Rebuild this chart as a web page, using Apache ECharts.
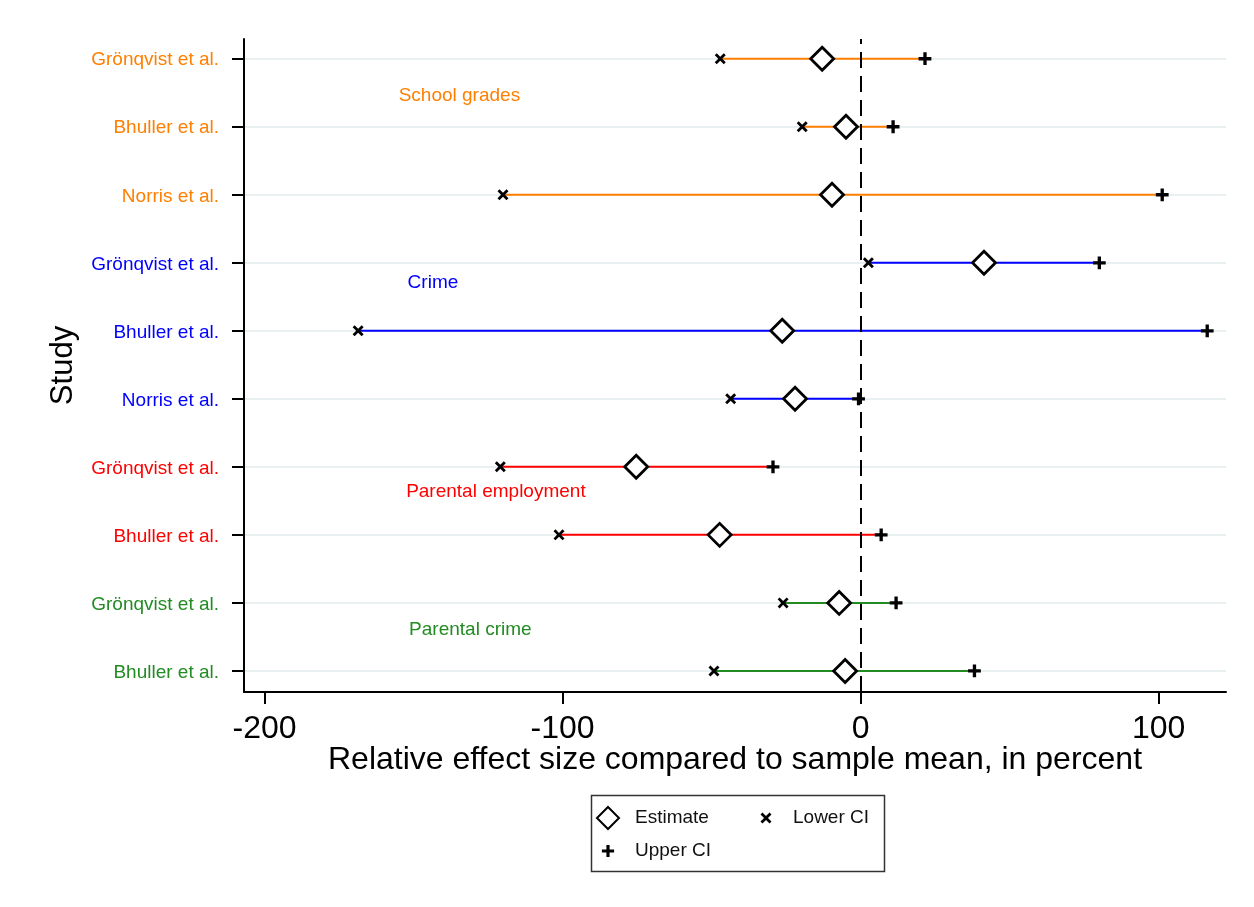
<!DOCTYPE html>
<html>
<head>
<meta charset="utf-8">
<script src="https://cdn.jsdelivr.net/npm/echarts@6/dist/echarts.min.js"></script>
<style>
  html, body { margin: 0; padding: 0; background: #fff; }
  #chart { width: 1254px; height: 907px; }
</style>
</head>
<body>
<div id="chart"></div>
<script>
// Studies, top to bottom
const studies = [
  'Grönqvist et al.', 'Bhuller et al.', 'Norris et al.',
  'Grönqvist et al.', 'Bhuller et al.', 'Norris et al.',
  'Grönqvist et al.', 'Bhuller et al.',
  'Grönqvist et al.', 'Bhuller et al.'
];
// Outcome group of each study row (index into outcomes)
const groups = [0, 0, 0, 1, 1, 1, 2, 2, 3, 3];
const outcomes = ['School grades', 'Crime', 'Parental employment', 'Parental crime'];

// Relative effect sizes (percent of sample mean)
const estimate = [-12.9, -4.9, -9.6, 41.4, -26.3, -22.0, -75.3, -47.3, -7.2, -5.2];
const lowerCI  = [-47.1, -19.6, -120.0, 2.6, -168.6, -43.6, -120.9, -101.2, -26.0, -49.2];
const upperCI  = [21.6, 10.9, 101.2, 80.1, 116.3, -0.7, -29.4, 6.9, 11.9, 38.2];

// x-axis tick labels
const xTicks = [-200, -100, 0, 100];

const FONT = '"Liberation Sans", Arial, Helvetica, sans-serif';
const groupColors = ['#FF7F00', '#0000FF', '#FF0000', '#228B22'];

// Row position on the y scale: first study sits at the top
const rowPos = studies.map((_, i) => studies.length - i);

const rangeData = studies.map((_, i) => [lowerCI[i], upperCI[i], rowPos[i]]);
const estData = studies.map((_, i) => [estimate[i], rowPos[i]]);
const lowData = studies.map((_, i) => [lowerCI[i], rowPos[i]]);
const upData = studies.map((_, i) => [upperCI[i], rowPos[i]]);

// Outcome headings, placed in data space below the first row of each group
const headingAnchor = [[-155, 9.45], [-152, 6.70], [-152.5, 3.63], [-151.5, 1.60]];
const headingData = outcomes.map((name, g) => ({
  value: headingAnchor[g],
  name: name,
  label: { color: groupColors[g] }
}));

// Marker shapes; the moveTo corners pad the glyph inside its symbol box
const crossX = 'path://M-5,-5L-5,-5M15,15L15,15M0,1.8L1.8,0L5,3.2L8.2,0L10,1.8L6.8,5L10,8.2L8.2,10L5,6.8L1.8,10L0,8.2L3.2,5Z';
const crossPlus = 'path://M-4,-4L-4,-4M14,14L14,14M3.7,0H6.3V3.7H10V6.3H6.3V10H3.7V6.3H0V3.7H3.7Z';

const rich = {};
groupColors.forEach((c, g) => {
  rich['g' + g] = { color: c, fontSize: 19, fontFamily: FONT, padding: [3, 0, 0, 0] };
});

const chart = echarts.init(document.getElementById('chart'), null, { renderer: 'canvas' });

chart.setOption({
  animation: false,
  backgroundColor: '#fff',
  textStyle: { fontFamily: FONT },
  grid: { left: 244, right: 28, top: 39, bottom: 215, outerBoundsMode: 'none' },
  xAxis: {
    type: 'value',
    min: -206.9,
    max: 122.6,
    name: 'Relative effect size compared to sample mean, in percent',
    nameLocation: 'middle',
    nameGap: 52,
    nameMoveOverlap: false,
    nameTextStyle: { fontSize: 32, color: '#000', fontFamily: FONT },
    axisLine: { show: true, onZero: false, lineStyle: { color: '#000', width: 2 } },
    axisTick: { show: true, customValues: xTicks, length: 12, lineStyle: { color: '#000', width: 2 } },
    axisLabel: {
      customValues: xTicks,
      margin: 21,
      fontSize: 32,
      color: '#000',
      fontFamily: FONT,
      formatter: v => String(v)
    },
    splitLine: { show: false }
  },
  yAxis: {
    type: 'value',
    min: 0.69,
    max: 10.29,
    name: 'Study',
    nameLocation: 'middle',
    nameRotate: 90,
    nameGap: 165,
    nameTextStyle: { fontSize: 31, color: '#000', fontFamily: FONT },
    axisLine: { show: true, onZero: false, lineStyle: { color: '#000', width: 2 } },
    axisTick: { show: true, customValues: rowPos, length: 12, lineStyle: { color: '#000', width: 2 } },
    axisLabel: {
      customValues: rowPos,
      margin: 25,
      formatter: v => {
        const i = studies.length - Math.round(v);
        return '{g' + groups[i] + '|' + studies[i] + '}';
      },
      rich: rich
    },
    splitLine: { show: false }
  },
  legend: {
    data: ['Estimate', 'Lower CI', 'Upper CI'],
    left: 596,
    top: 806,
    width: 310,
    padding: 0,
    itemWidth: 22,
    itemHeight: 22,
    itemGap: 9,
    selectedMode: false,
    textStyle: {
      fontSize: 19,
      fontFamily: FONT,
      color: '#111',
      width: 111,
      lineHeight: 22,
      padding: [0, 0, 0, 11]
    }
  },
  graphic: [{
    type: 'rect',
    left: 589,
    top: 793,
    shape: { width: 293, height: 76 },
    style: { fill: 'none', stroke: '#333', lineWidth: 1.5 },
    silent: true
  }],
  series: [
    {
      // light horizontal guides at each study row
      type: 'line',
      data: [],
      silent: true,
      z: 0,
      markLine: {
        z: 0,
        silent: true,
        symbol: 'none',
        label: { show: false },
        lineStyle: { color: '#E9F0F2', width: 2, type: 'solid' },
        data: rowPos.map(p => ({ yAxis: p }))
      }
    },
    {
      // confidence interval segments, coloured by outcome group
      type: 'custom',
      name: 'CI',
      z: 2,
      silent: true,
      data: rangeData,
      encode: { x: [0, 1], y: 2 },
      renderItem: (params, api) => {
        const y = api.value(2);
        const a = api.coord([api.value(0), y]);
        const b = api.coord([api.value(1), y]);
        return {
          type: 'line',
          shape: { x1: a[0], y1: a[1], x2: b[0], y2: b[1] },
          style: { stroke: groupColors[groups[params.dataIndex]], lineWidth: 2, opacity: 1 }
        };
      }
    },
    {
      type: 'scatter',
      name: 'Estimate',
      z: 3,
      data: estData,
      symbol: 'diamond',
      symbolSize: 23,
      itemStyle: { color: '#fff', borderColor: '#000', borderWidth: 2.8, opacity: 1 }
    },
    {
      type: 'scatter',
      name: 'Lower CI',
      z: 4,
      data: lowData,
      symbol: crossX,
      symbolSize: 22,
      itemStyle: { color: '#000', opacity: 1 }
    },
    {
      type: 'scatter',
      name: 'Upper CI',
      z: 4,
      data: upData,
      symbol: crossPlus,
      symbolSize: 23,
      itemStyle: { color: '#000', opacity: 1 },
      markLine: {
        // reference line at zero effect
        z: 6,
        silent: true,
        symbol: 'none',
        label: { show: false },
        lineStyle: { color: '#000', width: 2, type: [16, 8] },
        data: [{ xAxis: 0 }]
      }
    },
    {
      // outcome headings
      type: 'scatter',
      name: 'Outcomes',
      z: 5,
      symbolSize: 0,
      silent: true,
      data: headingData,
      itemStyle: { opacity: 1 },
      label: {
        show: true,
        position: 'inside',
        align: 'left',
        verticalAlign: 'middle',
        fontSize: 19,
        fontFamily: FONT,
        formatter: p => p.name
      }
    }
  ]
});
</script>
</body>
</html>
